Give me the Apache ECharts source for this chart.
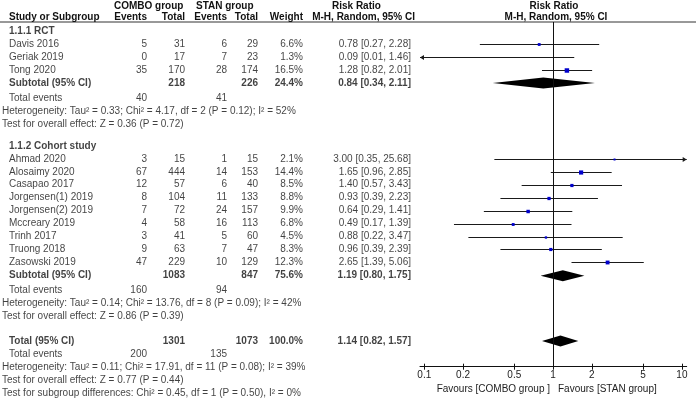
<!DOCTYPE html>
<html><head><meta charset="utf-8">
<script src="https://cdn.jsdelivr.net/npm/echarts@6/dist/echarts.min.js"></script>
<style>html,body{margin:0;padding:0;background:#fff}#c{width:696px;height:400px}</style>
</head><body><div id="c"></div>
<script>
// ---------------- data ----------------
const rctStudies = ['Davis 2016', 'Geriak 2019', 'Tong 2020'];
const rctComboEvents = [5, 0, 35];
const rctComboTotal = [31, 17, 170];
const rctStanEvents = [6, 7, 28];
const rctStanTotal = [29, 23, 174];
const rctWeight = [6.6, 1.3, 16.5];
const rctRR = [0.78, 0.09, 1.28];
const rctLow = [0.27, 0.01, 0.82];
const rctHigh = [2.28, 1.46, 2.01];

const cohortStudies = ['Ahmad 2020', 'Alosaimy 2020', 'Casapao 2017', 'Jorgensen(1) 2019', 'Jorgensen(2) 2019', 'Mccreary 2019', 'Trinh 2017', 'Truong 2018', 'Zasowski 2019'];
const cohortComboEvents = [3, 67, 12, 8, 7, 4, 3, 9, 47];
const cohortComboTotal = [15, 444, 57, 104, 72, 58, 41, 63, 229];
const cohortStanEvents = [1, 14, 6, 11, 24, 16, 5, 7, 10];
const cohortStanTotal = [15, 153, 40, 133, 157, 113, 60, 47, 129];
const cohortWeight = [2.1, 14.4, 8.5, 8.8, 9.9, 6.8, 4.5, 8.3, 12.3];
const cohortRR = [3.00, 1.65, 1.40, 0.93, 0.64, 0.49, 0.88, 0.96, 2.65];
const cohortLow = [0.35, 0.96, 0.57, 0.39, 0.29, 0.17, 0.22, 0.39, 1.39];
const cohortHigh = [25.68, 2.85, 3.43, 2.23, 1.41, 1.39, 3.47, 2.39, 5.06];

const subgroupLabels = ['1.1.1 RCT', '1.1.2 Cohort study'];
const subtotalComboTotal = [218, 1083];
const subtotalStanTotal = [226, 847];
const subtotalWeight = [24.4, 75.6];
const subtotalRR = [0.84, 1.19];
const subtotalLow = [0.34, 0.80];
const subtotalHigh = [2.11, 1.75];
const subtotalComboEvents = [40, 160];
const subtotalStanEvents = [41, 94];
const subtotalHet = ['Heterogeneity: Tau\u00b2 = 0.33; Chi\u00b2 = 4.17, df = 2 (P = 0.12); I\u00b2 = 52%',
                     'Heterogeneity: Tau\u00b2 = 0.14; Chi\u00b2 = 13.76, df = 8 (P = 0.09); I\u00b2 = 42%'];
const subtotalTest = ['Test for overall effect: Z = 0.36 (P = 0.72)', 'Test for overall effect: Z = 0.86 (P = 0.39)'];

const totalLabel = 'Total (95% CI)';
const totalComboTotal = 1301;
const totalStanTotal = 1073;
const totalWeight = 100.0;
const totalRR = 1.14;
const totalLow = 0.82;
const totalHigh = 1.57;
const totalComboEvents = 200;
const totalStanEvents = 135;
const totalHet = 'Heterogeneity: Tau\u00b2 = 0.11; Chi\u00b2 = 17.91, df = 11 (P = 0.08); I\u00b2 = 39%';
const totalTest = 'Test for overall effect: Z = 0.77 (P = 0.44)';
const subgroupTest = 'Test for subgroup differences: Chi\u00b2 = 0.45, df = 1 (P = 0.50), I\u00b2 = 0%';

const axisTickValues = [0.1, 0.2, 0.5, 1, 2, 5, 10];
const favoursLeft = 'Favours [COMBO group ]';
const favoursRight = 'Favours [STAN group]';

// ---------------- layout ----------------
const W = 696, H = 400;
const ROW_H = 12.95, Y0 = 5.1;           // pixel of row slot 0
const N_ROWS = 30;
const HEADER_LINE_Y = 22, AXIS_Y = 366.7;
const PLOT_LEFT = 420, PLOT_RIGHT = 686.7;
const X_MIN = 0.0926, X_MAX = 10.9;
const FONT = '"Liberation Sans", Arial, sans-serif';
const COL = { name: 9, stat: 2, ce: 147, ct: 185, se: 227, st: 258, w: 303, rr: 411 };
const TXT = '#111';
// row-to-row steps (in row slots) by kind of transition
const STEP = { normal: 1, toSubtotal: 1.02, afterSubtotal: 1.15, groupGap: 1.7, totalGap: 1.9, afterTotal: 1.0 };

const fmtRR = (e, l, h) => e.toFixed(2) + ' [' + l.toFixed(2) + ', ' + h.toFixed(2) + ']';
const fmtW = w => w.toFixed(1) + '%';

// build rows
const rows = [];
let slot = 2;
function add(o, step) { if (rows.length) slot += step; o.y = slot; rows.push(o); }
const groups = [
  { label: subgroupLabels[0], studies: rctStudies, ce: rctComboEvents, ct: rctComboTotal, se: rctStanEvents, st: rctStanTotal, w: rctWeight, rr: rctRR, lo: rctLow, hi: rctHigh },
  { label: subgroupLabels[1], studies: cohortStudies, ce: cohortComboEvents, ct: cohortComboTotal, se: cohortStanEvents, st: cohortStanTotal, w: cohortWeight, rr: cohortRR, lo: cohortLow, hi: cohortHigh }
];
groups.forEach((g, gi) => {
  add({ kind: 'group', name: g.label }, STEP.groupGap);
  g.studies.forEach((s, i) => add({ kind: 'study', name: s, ce: g.ce[i], ct: g.ct[i], se: g.se[i], st: g.st[i], w: g.w[i], rr: g.rr[i], lo: g.lo[i], hi: g.hi[i] }, STEP.normal));
  add({ kind: 'subtotal', name: 'Subtotal (95% CI)', ct: subtotalComboTotal[gi], st: subtotalStanTotal[gi], w: subtotalWeight[gi], rr: subtotalRR[gi], lo: subtotalLow[gi], hi: subtotalHigh[gi] }, STEP.toSubtotal);
  add({ kind: 'events', name: 'Total events', ce: subtotalComboEvents[gi], se: subtotalStanEvents[gi] }, STEP.afterSubtotal);
  add({ kind: 'stat', name: subtotalHet[gi] }, STEP.normal);
  add({ kind: 'stat', name: subtotalTest[gi] }, STEP.normal);
});
add({ kind: 'subtotal', name: totalLabel, ct: totalComboTotal, st: totalStanTotal, w: totalWeight, rr: totalRR, lo: totalLow, hi: totalHigh }, STEP.totalGap);
add({ kind: 'events', name: 'Total events', ce: totalComboEvents, se: totalStanEvents }, STEP.afterTotal);
add({ kind: 'stat', name: totalHet }, STEP.normal);
add({ kind: 'stat', name: totalTest }, STEP.normal);
add({ kind: 'stat', name: subgroupTest }, STEP.normal);

// table text items
const textItems = [];
function cell(x, y, text, align, bold) {
  textItems.push({ value: [x, y], name: String(text), label: { align: align, fontWeight: bold ? 'bold' : 'normal' } });
}
rows.forEach(r => {
  const bold = r.kind === 'group' || r.kind === 'subtotal';
  if (r.kind === 'stat') { cell(COL.stat, r.y, r.name, 'left', false); return; }
  cell(COL.name, r.y, r.name, 'left', bold);
  if (r.ce !== undefined) cell(COL.ce, r.y, r.ce, 'right', bold);
  if (r.ct !== undefined) cell(COL.ct, r.y, r.ct, 'right', bold);
  if (r.se !== undefined) cell(COL.se, r.y, r.se, 'right', bold);
  if (r.st !== undefined) cell(COL.st, r.y, r.st, 'right', bold);
  if (r.w !== undefined) cell(COL.w, r.y, fmtW(r.w), 'right', bold);
  if (r.rr !== undefined) cell(COL.rr, r.y, fmtRR(r.rr, r.lo, r.hi), 'right', bold);
});

const ciData = rows.filter(r => r.kind === 'study').map(r => [r.lo, r.hi, r.rr, r.y, r.w]);
const diamondData = rows.filter(r => r.kind === 'subtotal').map(r => [r.lo, r.hi, r.rr, r.y]);

const plotYMin = (HEADER_LINE_Y - Y0) / ROW_H;
const plotYMax = (AXIS_Y - Y0) / ROW_H;

function headerText(x, y, text, align) {
  return { type: 'text', x: x, y: y, silent: true,
    style: { text: text, align: align, verticalAlign: 'middle', font: 'bold 10px ' + FONT, fill: TXT } };
}

const chart = echarts.init(document.getElementById('c'), null, { renderer: 'canvas' });
const xLogBase = { type: 'log', logBase: 10, min: X_MIN, max: X_MAX, gridIndex: 1, position: 'bottom' };
chart.setOption({
  animation: false,
  backgroundColor: '#fff',
  textStyle: { fontFamily: FONT },
  grid: [
    { left: 0, right: 0, top: Y0, height: N_ROWS * ROW_H },
    { left: PLOT_LEFT, width: PLOT_RIGHT - PLOT_LEFT, top: HEADER_LINE_Y, height: AXIS_Y - HEADER_LINE_Y }
  ],
  xAxis: [
    { type: 'value', gridIndex: 0, min: 0, max: W, show: false },
    Object.assign({}, xLogBase, {
      axisLine: { show: true, lineStyle: { color: '#111', width: 1 } },
      axisTick: { show: true, length: 3, customValues: axisTickValues, lineStyle: { color: '#111' } },
      axisLabel: { show: true, customValues: axisTickValues, margin: 4, fontSize: 10, color: '#222', fontFamily: FONT,
        formatter: v => String(Number(Number(v).toPrecision(2))) },
      splitLine: { show: false }
    }),
    Object.assign({}, xLogBase, {
      axisLine: { show: false },
      axisTick: { show: true, inside: true, length: 3, customValues: axisTickValues, lineStyle: { color: '#111' } },
      axisLabel: { show: false },
      splitLine: { show: false }
    })
  ],
  yAxis: [
    { type: 'value', gridIndex: 0, inverse: true, min: 0, max: N_ROWS, show: false },
    { type: 'value', gridIndex: 1, inverse: true, min: plotYMin, max: plotYMax, show: false }
  ],
  graphic: [
    { type: 'line', silent: true, shape: { x1: 0, y1: HEADER_LINE_Y, x2: W, y2: HEADER_LINE_Y }, style: { stroke: '#333', lineWidth: 1 } },
    headerText(114, 6, 'COMBO group', 'left'),
    headerText(196, 6, 'STAN group', 'left'),
    headerText(332, 6, 'Risk Ratio', 'left'),
    headerText(554, 6, 'Risk Ratio', 'center'),
    headerText(COL.name, 17, 'Study or Subgroup', 'left'),
    headerText(COL.ce, 17, 'Events', 'right'),
    headerText(COL.ct, 17, 'Total', 'right'),
    headerText(COL.se, 17, 'Events', 'right'),
    headerText(COL.st, 17, 'Total', 'right'),
    headerText(COL.w, 17, 'Weight', 'right'),
    headerText(415, 17, 'M-H, Random, 95% CI', 'right'),
    headerText(556, 17, 'M-H, Random, 95% CI', 'center'),
    { type: 'text', x: 550, y: 389, silent: true, style: { text: favoursLeft, align: 'right', verticalAlign: 'middle', font: '10px ' + FONT, fill: '#222' } },
    { type: 'text', x: 558, y: 389, silent: true, style: { text: favoursRight, align: 'left', verticalAlign: 'middle', font: '10px ' + FONT, fill: '#222' } }
  ],
  series: [
    {
      type: 'scatter', xAxisIndex: 0, yAxisIndex: 0, symbolSize: 0, silent: true,
      data: textItems,
      label: { show: true, position: 'inside', verticalAlign: 'middle', formatter: '{b}', fontSize: 10, color: TXT, fontFamily: FONT }
    },
    {
      type: 'custom', xAxisIndex: 1, yAxisIndex: 1, silent: true,
      data: ciData,
      renderItem: function (params, api) {
        const lo = api.value(0), hi = api.value(1), est = api.value(2), y = api.value(3), w = api.value(4);
        const a = api.coord([Math.max(lo, X_MIN), y]);
        const b = api.coord([Math.min(hi, X_MAX), y]);
        const yy = Math.round(a[1]) + 0.5;
        const kids = [{ type: 'line', shape: { x1: a[0], y1: yy, x2: b[0], y2: yy }, style: { stroke: '#1a1a1a', lineWidth: 1 } }];
        if (lo < X_MIN) kids.push({ type: 'polygon', shape: { points: [[a[0], yy], [a[0] + 4, yy - 2.5], [a[0] + 4, yy + 2.5]] }, style: { fill: '#1a1a1a' } });
        if (hi > X_MAX) kids.push({ type: 'polygon', shape: { points: [[b[0], yy], [b[0] - 4, yy - 2.5], [b[0] - 4, yy + 2.5]] }, style: { fill: '#1a1a1a' } });
        if (est >= X_MIN && est <= X_MAX) {
          const c = api.coord([est, y]);
          const s = Math.max(2, 1.1 * Math.sqrt(w));
          kids.push({ type: 'rect', shape: { x: c[0] - s / 2, y: yy - s / 2, width: s, height: s }, style: { fill: '#0000cc' } });
        }
        return { type: 'group', children: kids };
      },
      markLine: {
        silent: true, symbol: 'none', label: { show: false },
        lineStyle: { color: '#111', width: 1, type: 'solid' },
        data: [{ xAxis: 1 }]
      }
    },
    {
      type: 'custom', xAxisIndex: 1, yAxisIndex: 1, silent: true,
      data: diamondData,
      renderItem: function (params, api) {
        const lo = api.value(0), hi = api.value(1), est = api.value(2), y = api.value(3);
        const a = api.coord([lo, y]), b = api.coord([hi, y]), c = api.coord([est, y]);
        const h = 5.5;
        return { type: 'polygon', shape: { points: [[a[0], c[1]], [c[0], c[1] - h], [b[0], c[1]], [c[0], c[1] + h]] }, style: { fill: '#000' } };
      }
    }
  ]
});
</script>
</body></html>
